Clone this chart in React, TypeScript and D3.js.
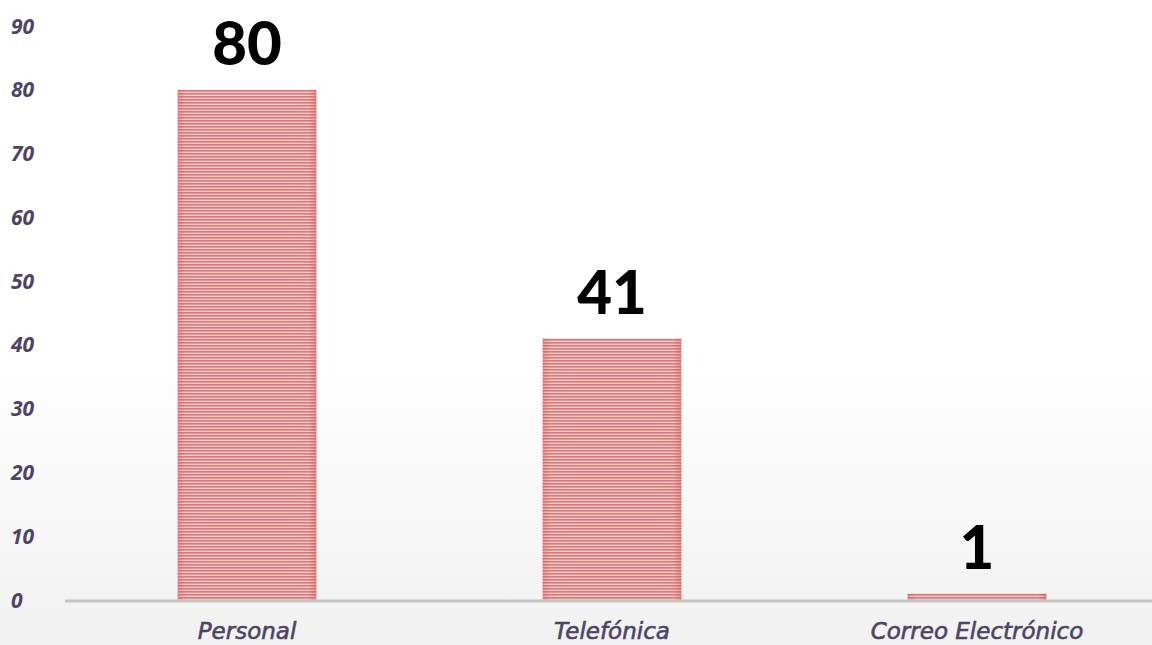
import React from "react";
import * as d3 from "d3";

const categories = ["Personal", "Telefónica", "Correo Electrónico"];
const values = [80, 41, 1];
const yTicks = [0, 10, 20, 30, 40, 50, 60, 70, 80, 90];

const W = 1152;
const H = 645;

export default function App() {
  const x = d3.scaleBand<string>().domain(categories).range([64.5, 1159.5]).paddingInner(0.62).paddingOuter(0.31);
  const y = d3.scaleLinear().domain([0, 90]).range([600, 26]);
  const bw = x.bandwidth();

  return (
    <div style={{ position: "fixed", left: 0, top: 0 }}>
      <svg width={W} height={H} style={{ display: "block" }}>
        <defs>
          <linearGradient id="bg" x1="0" y1="0" x2="0" y2="1">
            <stop offset="0" stopColor="#ffffff" />
            <stop offset="0.55" stopColor="#ffffff" />
            <stop offset="1" stopColor="#f1f1f1" />
          </linearGradient>
          <pattern id="stripes" patternUnits="userSpaceOnUse" width="8" height="3">
            <rect width="8" height="3" fill="#f5c8c8" />
            <rect width="8" height="1.6" fill="#d77a7a" />
          </pattern>
          <linearGradient id="edge" x1="0" y1="0" x2="1" y2="0">
            <stop offset="0" stopColor="#d05a5a" stopOpacity="0.35" />
            <stop offset="0.06" stopColor="#d05a5a" stopOpacity="0" />
            <stop offset="0.94" stopColor="#d05a5a" stopOpacity="0" />
            <stop offset="1" stopColor="#d05a5a" stopOpacity="0.45" />
          </linearGradient>
        </defs>
        <rect width={W} height={H} fill="url(#bg)" />
        {yTicks.map((t) => (
          <text
            key={t}
            x={11}
            y={y(t)}
            dy="0.36em"
            fontFamily="'Open Sans', sans-serif"
            fontStyle="italic"
            fontWeight="bold"
            fontSize={21}
            fill="#4d4466"
          >
            {t}
          </text>
        ))}
        {categories.map((c, i) => {
          const x0 = x(c)!;
          const yt = y(values[i]);
          const h = y(0) - yt;
          return (
            <g key={c}>
              <rect x={x0} y={yt} width={bw} height={h} fill="url(#stripes)" />
              <rect x={x0} y={yt} width={bw} height={h} fill="url(#edge)" />
              <text
                x={x0 + bw / 2}
                y={yt - 25}
                textAnchor="middle"
                fontFamily="Lato, sans-serif"
                fontWeight="900"
                fontSize={60}
                fill="#000"
              >
                {values[i]}
              </text>
              <text
                x={x0 + bw / 2}
                y={639}
                textAnchor="middle"
                fontFamily="'DejaVu Sans', sans-serif"
                fontStyle="italic"
                fontSize={23}
                fill="#4d4466"
                stroke="#4d4466"
                strokeWidth={0.6}
              >
                {c}
              </text>
            </g>
          );
        })}
        <line x1={65} x2={W} y1={y(0) + 1} y2={y(0) + 1} stroke="#c3c3c3" strokeWidth={3} />
      </svg>
    </div>
  );
}
